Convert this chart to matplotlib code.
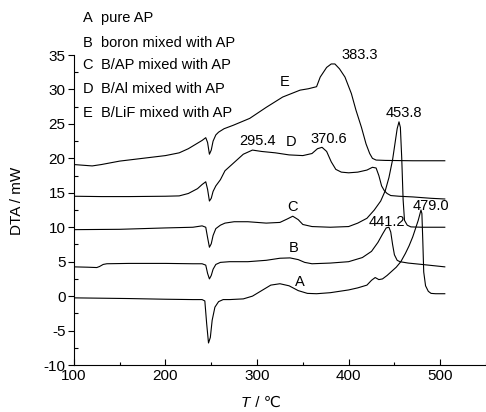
import matplotlib
matplotlib.use("Agg")
import matplotlib.pyplot as plt
from matplotlib.ticker import MultipleLocator

plt.rcParams['font.family'] = ['Liberation Sans', 'DejaVu Sans']
plt.rcParams['axes.unicode_minus'] = False

# DTA curves (T in degC, DTA in mW)
t_a = [100, 130, 160, 200, 230, 240, 243, 245, 247, 249, 251, 254, 258, 263, 270, 285, 295,
       305, 315, 325, 335, 345, 355, 365, 380, 400, 410, 420, 425, 429, 433, 437, 442, 447,
       452, 457, 462, 466, 470, 473, 476, 478, 479, 480, 481, 482, 484, 487, 490, 495, 505]
dta_a = [-0.25, -0.3, -0.35, -0.45, -0.5, -0.5, -0.7, -4.0, -6.8, -6.0, -3.5, -1.6, -0.8, -0.5,
         -0.5, -0.4, 0.0, 0.8, 1.6, 1.8, 1.5, 0.8, 0.4, 0.35, 0.5, 0.9, 1.2, 1.6, 2.3, 2.7, 2.4,
         2.5, 3.0, 3.6, 4.2, 5.0, 6.2, 7.3, 8.6, 9.8, 11.0, 12.0, 12.5, 12.0, 8.0, 3.5, 1.5, 0.7,
         0.4, 0.35, 0.35]

t_b = [100, 115, 125, 128, 132, 136, 160, 200, 230, 240, 244, 246, 248, 250, 252, 255, 260,
       270, 290, 310, 325, 336, 345, 352, 360, 380, 400, 415, 425, 432, 437, 441, 444, 446, 448,
       450, 453, 456, 465, 480, 505]
dta_b = [4.25, 4.2, 4.15, 4.3, 4.6, 4.7, 4.75, 4.75, 4.7, 4.7, 4.5, 3.3, 2.5, 3.0, 3.9, 4.6,
         4.9, 5.0, 5.0, 5.2, 5.5, 5.55, 5.3, 4.9, 4.7, 4.8, 5.0, 5.6, 6.5, 7.8, 9.0, 9.9, 10.0,
         9.3, 7.5, 6.0, 5.2, 5.0, 4.8, 4.6, 4.25]

t_c = [100, 150, 200, 230, 240, 244, 246, 248, 250, 252, 255, 260, 265, 275, 290, 310, 325,
       333, 339, 345, 350, 360, 380, 400, 410, 420, 428, 435, 440, 444, 448, 451, 453, 455,
       456.5, 458, 459.5, 461, 464, 468, 480, 505]
dta_c = [9.65, 9.7, 9.9, 10.0, 10.2, 10.0, 8.5, 7.1, 7.6, 8.8, 9.8, 10.3, 10.6, 10.8, 10.8,
         10.6, 10.7, 11.2, 11.6, 11.1, 10.4, 10.1, 10.0, 10.1, 10.6, 11.3, 12.5, 13.8, 15.3,
         17.2, 19.8, 22.5, 24.3, 25.3, 24.5, 20.0, 14.0, 11.0, 10.3, 10.05, 10.0, 10.0]

t_d = [100, 130, 160, 200, 215, 225, 235, 240, 244, 246, 248, 250, 252, 255, 260, 265, 275,
       285, 295, 305, 320, 335, 350, 360, 366, 371, 376, 381, 386, 392, 400, 410, 420, 426,
       430, 433, 436, 439, 442, 446, 455, 470, 490, 505]
dta_d = [14.5, 14.45, 14.45, 14.5, 14.55, 14.9, 15.6, 16.2, 16.6, 15.5, 13.8, 14.2, 15.2,
         16.0, 16.9, 18.2, 19.4, 20.6, 21.2, 21.0, 20.8, 20.5, 20.4, 20.7, 21.4, 21.6, 21.0,
         19.5, 18.4, 18.0, 17.9, 18.0, 18.3, 18.7, 18.6, 17.5, 16.0, 15.3, 14.9, 14.6, 14.5,
         14.4, 14.2, 14.1]

t_e = [100, 110, 120, 130, 150, 175, 200, 215, 225, 235, 240, 244, 246, 248, 250, 252, 255,
       258, 264, 274, 292, 310, 328, 347, 356, 365, 369, 376, 381, 385, 390, 396, 403, 408,
       414, 419, 423, 426, 430, 440, 470, 505]
dta_e = [19.1, 19.0, 18.9, 19.1, 19.6, 20.0, 20.4, 20.8, 21.4, 22.2, 22.6, 23.0, 22.3, 20.6,
         21.2, 22.5, 23.4, 23.8, 24.3, 24.8, 25.8, 27.4, 28.9, 29.9, 30.1, 30.4, 31.8, 33.2,
         33.7, 33.7, 33.0, 31.8, 29.4, 27.0, 24.5, 22.1, 20.7, 20.0, 19.75, 19.7, 19.65, 19.65]

curves = [(t_a, dta_a), (t_b, dta_b), (t_c, dta_c), (t_d, dta_d), (t_e, dta_e)]

legend_keys = ['A', 'B', 'C', 'D', 'E']
legend_names = ['pure AP', 'boron mixed with AP', 'B/AP mixed with AP',
                'B/Al mixed with AP', 'B/LiF mixed with AP']
legend_y = [40.3, 36.7, 33.5, 30.0, 26.6]

# labels written on the chart: (text, T, DTA)
notes = [('383.3', 411.6, 35.0), ('E', 329.8, 31.1), ('453.8', 460.6, 26.6),
         ('295.4', 300.3, 22.5), ('D', 337.0, 22.4), ('370.6', 377.8, 22.8),
         ('C', 338.5, 12.9), ('B', 339.6, 7.0), ('A', 346.2, 2.0),
         ('441.2', 442.0, 10.7), ('479.0', 490.0, 13.1)]

fig = plt.figure(figsize=(4.86, 4.12), dpi=100)
ax = fig.add_axes([0.152, 0.114, 0.848, 0.7525])

for t, v in curves:
    ax.plot(t, v, color='black', lw=0.8)

ax.set_xlim(100, 550)
ax.set_ylim(-10, 35)
ax.spines['top'].set_visible(False)
ax.spines['right'].set_visible(False)
ax.spines['left'].set_linewidth(0.8)
ax.spines['bottom'].set_linewidth(0.8)

ax.xaxis.set_minor_locator(MultipleLocator(50))
ax.yaxis.set_major_locator(MultipleLocator(5))
ax.yaxis.set_minor_locator(MultipleLocator(2.5))
ax.set_xticks([100, 200, 300, 400, 500])
ax.tick_params(axis='x', which='major', direction='in', length=4, width=0.8, labelsize=11, pad=3)
ax.tick_params(axis='x', which='minor', direction='in', length=2.5, width=0.8)
ax.tick_params(axis='y', which='major', direction='out', length=4, width=0.8, labelsize=11, pad=2)
ax.tick_params(axis='y', which='minor', direction='in', length=3, width=0.8)

# x label: italic T, then the unit
ax.text(0.427, -0.123, 'T', transform=ax.transAxes, fontsize=11, style='italic',
        ha='right', va='center')
ax.text(0.429, -0.123, ' / ℃', transform=ax.transAxes, fontsize=11,
        ha='left', va='center')
ax.set_ylabel('DTA / mW', fontsize=11)
ax.yaxis.set_label_coords(-0.12, 0.53)

for key, name, y in zip(legend_keys, legend_names, legend_y):
    ax.text(109.5, y, key, fontsize=10.5, ha='left', va='center')
    ax.text(129.1, y, name, fontsize=10.5, ha='left', va='center')

for s, x, y in notes:
    ax.text(x, y, s, fontsize=10.5, ha='center', va='center')

fig.savefig('out.png', dpi=100)
